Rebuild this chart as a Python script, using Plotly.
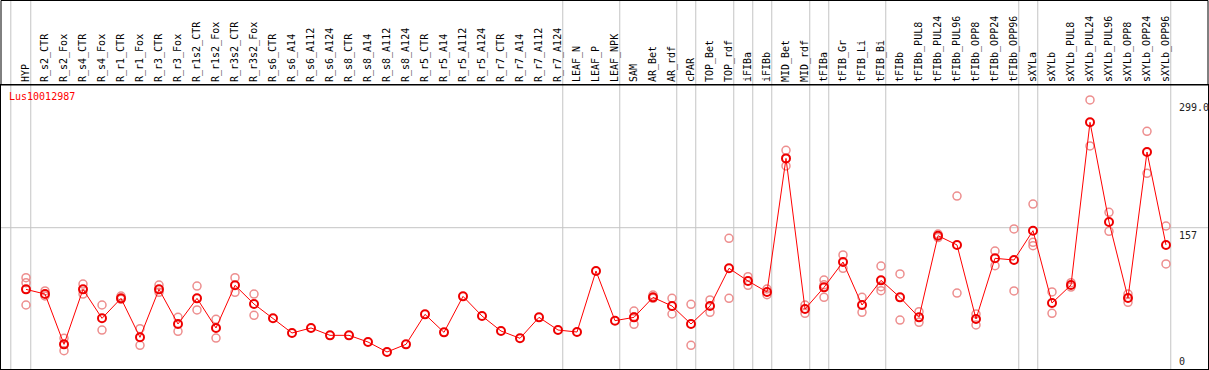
import plotly.graph_objects as go

categories = ["HYP", "R_s2_CTR", "R_s2_Fox", "R_s4_CTR", "R_s4_Fox", "R_r1_CTR", "R_r1_Fox",
              "R_r3_CTR", "R_r3_Fox", "R_r1s2_CTR", "R_r1s2_Fox", "R_r3s2_CTR", "R_r3s2_Fox",
              "R_s6_CTR", "R_s6_A14", "R_s6_A112", "R_s6_A124", "R_s8_CTR", "R_s8_A14",
              "R_s8_A112", "R_s8_A124", "R_r5_CTR", "R_r5_A14", "R_r5_A112", "R_r5_A124",
              "R_r7_CTR", "R_r7_A14", "R_r7_A112", "R_r7_A124", "LEAF_N", "LEAF_P", "LEAF_NPK",
              "SAM", "AR_Bet", "AR_rdf", "cPAR", "TOP_Bet", "TOP_rdf", "iFIBa", "iFIBb",
              "MID_Bet", "MID_rdf", "tFIBa", "tFIB_Gr", "tFIB_Li", "tFIB_Bi", "tFIBb",
              "tFIBb_PUL8", "tFIBb_PUL24", "tFIBb_PUL96", "tFIBb_OPP8", "tFIBb_OPP24",
              "tFIBb_OPP96", "sXYLa", "sXYLb", "sXYLb_PUL8", "sXYLb_PUL24", "sXYLb_PUL96",
              "sXYLb_OPP8", "sXYLb_OPP24", "sXYLb_OPP96"]

mean_values = [88.5, 83.3, 27.4, 88.5, 56.3, 78.5, 35.2, 88.5, 50, 78.5,
               45.6, 93, 72.2, 56.3, 40, 45.6, 37.4, 37.4, 30, 18.9,
               27.4, 60.7, 40.7, 80.7, 58.9, 42.2, 34.1, 57.4, 43.3, 41.1,
               108.9, 53.7, 57.4, 79.6, 70, 50, 70, 111.9, 97.8, 85.6,
               234, 66.7, 90.7, 118.9, 71.1, 98.5, 79.6, 57.4, 148.1, 137.8,
               55.6, 123, 121.1, 153.7, 73.3, 93.3, 274.1, 163.3, 78.9, 241.1, 137.8]

replicate_values = [
    [101.5, 95.9, 71.1], [86.7, 81.1], [34.1, 20.4], [94.4, 83.3], [71.1, 43.3],
    [81.1, 77.4], [44.8, 26.3], [93.3, 85.2], [57.4, 41.9], [92.2, 65.6],
    [55.2, 34.4], [101.5, 85.2], [83.3, 59.6], [], [], [], [], [], [], [], [], [], [],
    [], [], [], [], [], [], [], [], [],
    [64.4, 58, 49.6], [82.2, 78.5], [78.5, 61.1], [71.9, 26.3], [76.7, 63],
    [145.2, 78.5], [102.6, 93], [88.9, 82.6], [243, 225.6], [71.1, 61.9],
    [98.9, 93.5, 79.6], [126.7, 111.9], [79.6, 63], [114.4, 91.5, 87], [105.6, 54.4],
    [63.7, 51.9], [150, 146], [192.2, 84.4], [61.1, 48.9], [131.1, 114.8],
    [155.6, 86.7], [183.3, 140.8, 137], [85.6, 61.9], [95.9, 91], [299, 247.8],
    [174.1, 153], [83.3, 74.1], [264.1, 217.4], [158.9, 116.7]]

# last category of each tissue group (separator lines drawn after them)
group_last = ["HYP", "R_r7_A124", "LEAF_NPK", "AR_rdf", "cPAR", "TOP_rdf", "iFIBa", "iFIBb",
              "MID_rdf", "tFIBa", "tFIB_Bi", "tFIBb_OPP96", "sXYLa", "sXYLb_OPP96"]

ytick_values = [299, 157, 0]
ytick_labels = ["299.0", "157", "0"]
gene_name = "Lus10012987"

W, H = 1209, 370
ML, MR, MT, MB = 1, 1, 85, 1
plot_h = H - MT - MB
plot_w = W - ML - MR
step = 19.0
first_px = 26.0
x_min = (ML - first_px) / step
x_max = (ML + plot_w - first_px) / step
y_max = plot_h / 0.9

mono = "DejaVu Sans Mono"

rep_x, rep_y = [], []
for c, reps in zip(categories, replicate_values):
    for r in reps:
        rep_x.append(c)
        rep_y.append(r)

fig = go.Figure()
fig.add_trace(go.Scatter(
    x=rep_x, y=rep_y, mode="markers",
    marker=dict(symbol="circle-open", size=8, color="rgba(235,130,130,0.9)",
                line=dict(width=1.5, color="rgba(235,130,130,0.9)")),
    hoverinfo="skip", showlegend=False, cliponaxis=False))
fig.add_trace(go.Scatter(
    x=categories, y=mean_values, mode="lines+markers",
    line=dict(color="#ff0000", width=1),
    marker=dict(symbol="circle-open", size=8, color="#ee0000",
                line=dict(width=2, color="#ee0000")),
    showlegend=False, cliponaxis=False))

shapes = []
top_paper = 1 + (MT - 0.5) / plot_h
for c in group_last:
    xv = categories.index(c) + 0.25
    shapes.append(dict(type="line", xref="x", yref="paper", x0=xv, x1=xv, y0=0, y1=top_paper,
                       line=dict(color="#c4c4c4", width=1), layer="below"))
shapes.append(dict(type="line", xref="x", yref="paper", x0=-0.8, x1=-0.8, y0=0, y1=top_paper,
                   line=dict(color="#c4c4c4", width=1), layer="below"))
shapes.append(dict(type="line", xref="paper", yref="y", x0=0, x1=1, y0=157, y1=157,
                   line=dict(color="#c4c4c4", width=1), layer="below"))
# outer frame of the header
shapes.append(dict(type="rect", xref="paper", yref="paper", x0=0, x1=1, y0=1, y1=top_paper,
                   line=dict(color="black", width=1)))

annotations = []
for v, t in zip(ytick_values, ytick_labels):
    annotations.append(dict(
        xref="paper", yref="y", x=(1177 - ML) / plot_w, y=v, text=t, showarrow=False,
        xanchor="left", yanchor="bottom" if v == 0 else "top",
        font=dict(family=mono, size=10, color="#222222")))
annotations.append(dict(
    xref="paper", yref="paper", x=(7 - ML) / plot_w, y=1 - (4 / plot_h), text=gene_name,
    showarrow=False, xanchor="left", yanchor="top",
    font=dict(family=mono, size=10, color="#ff0000")))

fig.update_layout(
    width=W, height=H,
    margin=dict(l=ML, r=MR, t=MT, b=MB, pad=0),
    paper_bgcolor="white", plot_bgcolor="white",
    xaxis=dict(type="category", categoryorder="array", categoryarray=categories,
               range=[x_min, x_max], side="top",
               tickmode="array", tickvals=categories, ticktext=categories,
               tickangle=-90, tickfont=dict(family=mono, size=10, color="black"),
               showgrid=False, zeroline=False, showline=True, mirror=True,
               linecolor="black", linewidth=1, ticks=""),
    yaxis=dict(range=[0, y_max], showgrid=False, zeroline=False, showticklabels=False,
               showline=True, mirror=True, linecolor="black", linewidth=1, ticks=""),
    shapes=shapes, annotations=annotations,
)

fig.write_html("out.html", config={"displayModeBar": False},
               post_script="document.body.style.margin='0';document.body.style.overflow='hidden';")
